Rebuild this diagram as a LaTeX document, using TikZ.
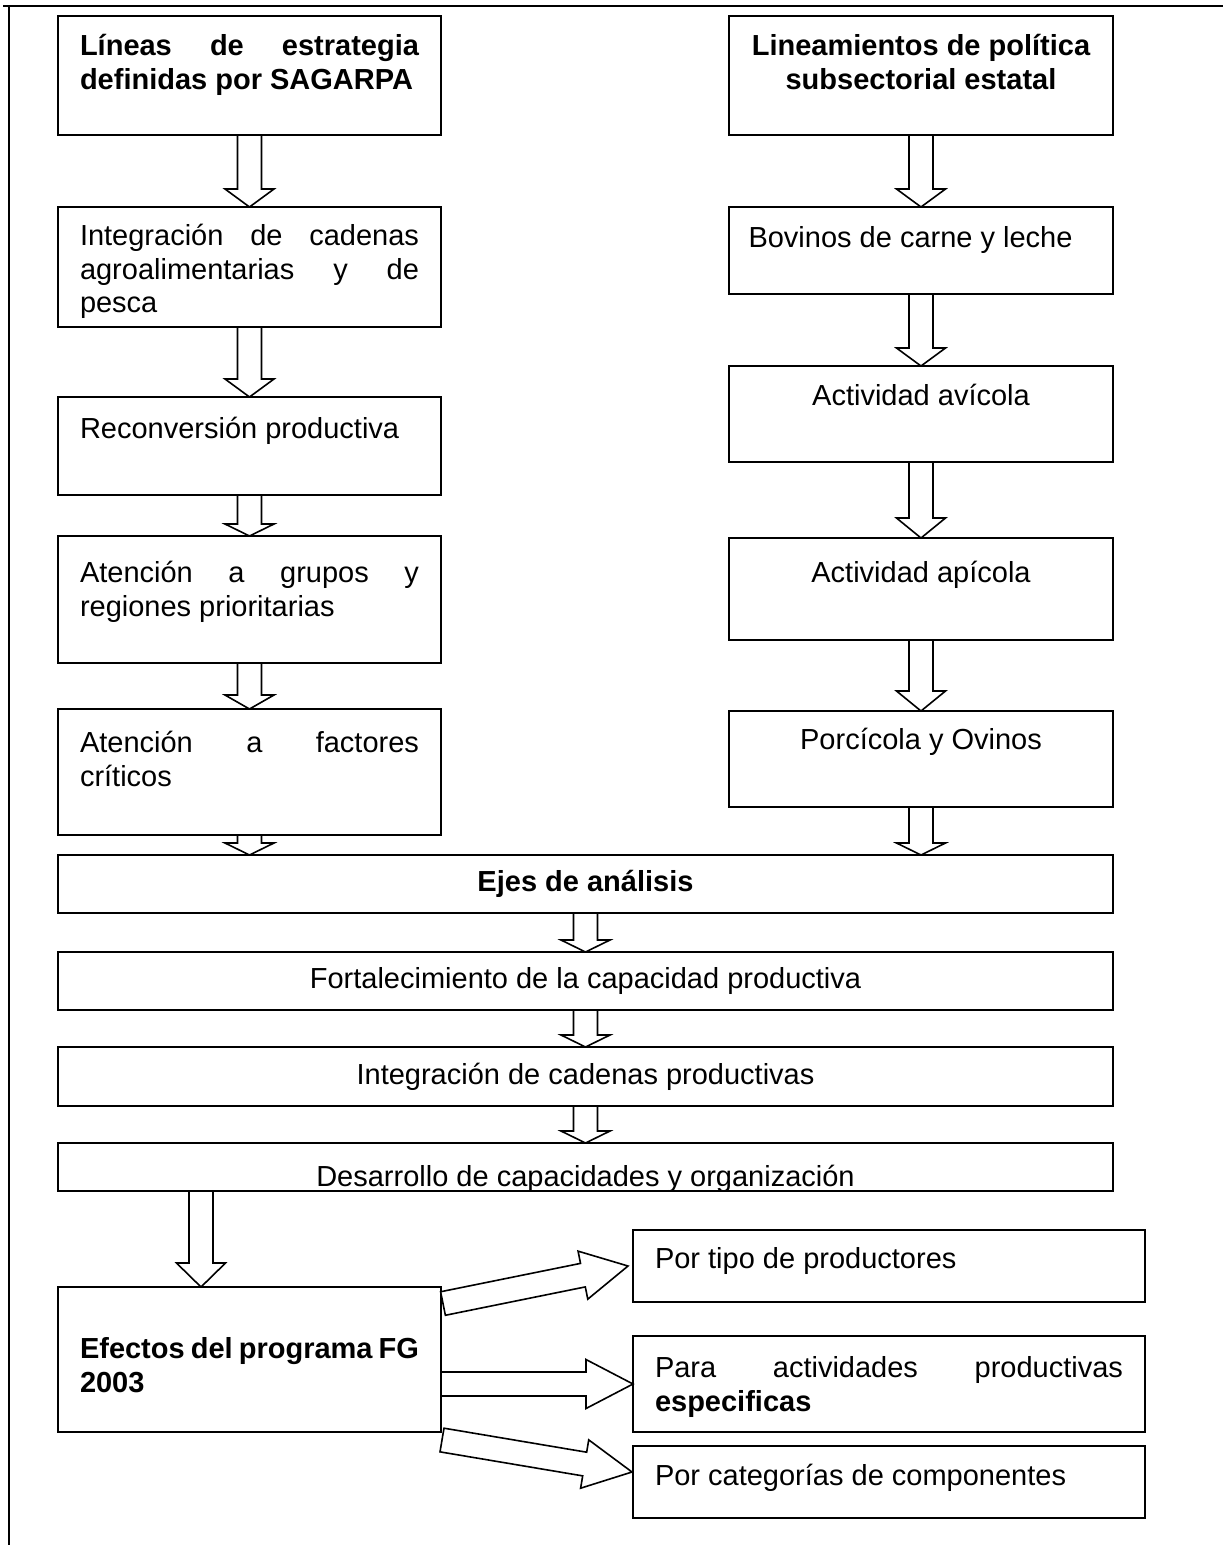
\documentclass[tikz,border=0pt]{standalone}
\usepackage{fontspec}
\setmainfont{Liberation Sans}
\usetikzlibrary{calc}

\tolerance=9999
\hbadness=10000
\vbadness=10000
\hyphenpenalty=10000
\exhyphenpenalty=10000

\definecolor{strokecol}{rgb}{0,0,0}

\tikzset{
    caja/.style={draw=strokecol, line width=2pt, anchor=north west, inner ysep=0pt, outer sep=0pt},
    ancha/.style={caja, inner xsep=0pt, minimum width=1055pt, minimum height=#1},
    flecha/.style={draw=strokecol, fill=white, line width=1.6pt},
}

% hollow block arrow: [head length]{from}{to}
\newcommand{\fatarrow}[3][18]{%
    \coordinate (fa-base) at ($(#3)!#1pt!(#2)$);
    \draw[flecha] ($(#2)!12pt!90:(#3)$) -- ($(fa-base)!12pt!-90:(#2)$)
        -- ($(fa-base)!24.5pt!-90:(#2)$) -- (#3)
        -- ($(fa-base)!24.5pt!90:(#2)$) -- ($(fa-base)!12pt!90:(#2)$)
        -- ($(#2)!12pt!-90:(#3)$) -- cycle;
}

\begin{document}
\begin{tikzpicture}[x=1pt, y=-1pt, every node/.style={font=\fontsize{29}{33.5}\selectfont}]

    \useasboundingbox (0,0) rectangle (1223,1545);

    \def\colL{339pt}
    \def\colR{345pt}
    \def\colB{468pt}

    % page frame
    \draw[draw=strokecol, line width=2pt] (3,6) -- (1223,6);
    \draw[draw=strokecol, line width=2pt] (9,6) -- (9,1545);

    % SAGARPA column
    \node[caja, inner xsep=22pt] (lin1) at (58,16) {\parbox[c][119pt][t]{\colL}{\vspace*{16.5pt}\bfseries\strut L\'ineas de estrategia definidas por SAGARPA}};
    \node[caja, inner xsep=22pt] (lin2) at (58,207) {\parbox[c][120pt][t]{\colL}{\vspace*{15.5pt}\strut Integraci\'on de cadenas agroalimentarias y de pesca}};
    \node[caja, inner xsep=22pt] (lin3) at (58,397) {\parbox[c][98pt][t]{\colL}{\vspace*{18.5pt}\strut Reconversi\'on productiva}};
    \node[caja, inner xsep=22pt] (lin4) at (58,536) {\parbox[c][127pt][t]{\colL}{\vspace*{23.5pt}\strut Atenci\'on a grupos y regiones prioritarias}};
    \node[caja, inner xsep=22pt] (lin5) at (58,709) {\parbox[c][126pt][t]{\colL}{\vspace*{20.5pt}\strut Atenci\'on a factores cr\'iticos}};

    % state policy column
    \node[caja, inner xsep=19.5pt] (pol1) at (729,16) {\parbox[c][119pt][t]{\colR}{\vspace*{16.5pt}\centering\bfseries\strut Lineamientos de pol\'itica subsectorial estatal}};
    \node[caja, inner xsep=19.5pt] (pol2) at (729,207) {\parbox[c][87pt][t]{\colR}{\vspace*{17.5pt}\strut Bovinos de carne y leche}};
    \node[caja, inner xsep=19.5pt] (pol3) at (729,366) {\parbox[c][96pt][t]{\colR}{\vspace*{16.5pt}\centering\strut Actividad av\'icola}};
    \node[caja, inner xsep=19.5pt] (pol4) at (729,538) {\parbox[c][102pt][t]{\colR}{\vspace*{21.5pt}\centering\strut Actividad ap\'icola}};
    \node[caja, inner xsep=19.5pt] (pol5) at (729,711) {\parbox[c][96pt][t]{\colR}{\vspace*{15.5pt}\centering\strut Porc\'icola y Ovinos}};

    % axes of analysis
    \node[ancha=58pt] (ejes) at (58,855) {\bfseries Ejes de an\'alisis};
    \node[ancha=58pt] (fort) at (58,952) {Fortalecimiento de la capacidad productiva};
    \node[ancha=59pt] (integ) at (58,1047) {Integraci\'on de cadenas productivas};
    \node[ancha=48pt, path picture={\node[anchor=base] (desa-text) at ([yshift=-19pt]path picture bounding box.center) {Desarrollo de capacidades y organizaci\'on};}] (desa) at (58,1143) {};

    % effects
    \node[caja, inner xsep=22pt] (efec) at (58,1287) {\parbox[c][145pt][t]{\colL}{\vspace*{48.5pt}\bfseries\strut Efectos del programa FG 2003}};
    \node[caja, inner xsep=22pt] (tipo) at (633,1230) {\parbox[c][72pt][t]{\colB}{\vspace*{15.5pt}\strut Por tipo de productores}};
    \node[caja, inner xsep=22pt] (activ) at (633,1336) {\parbox[c][96pt][t]{\colB}{\vspace*{18.5pt}\strut Para actividades productivas \textbf{especificas}}};
    \node[caja, inner xsep=22pt] (categ) at (633,1446) {\parbox[c][72pt][t]{\colB}{\vspace*{16.5pt}\strut Por categor\'ias de componentes}};

    % arrow ends
    \coordinate (ejes-l) at (lin5.south |- ejes.north);
    \coordinate (ejes-r) at (pol5.south |- ejes.north);
    \coordinate (desa-out) at ([xshift=143pt]desa.south west);
    \coordinate (efec-in) at (desa-out |- efec.north);
    \coordinate (e1-s) at ([xshift=2pt, yshift=56pt]efec.east);
    \coordinate (e1-t) at ([xshift=-5pt]tipo.west);
    \coordinate (e2-s) at ([yshift=-24.5pt]efec.east);
    \coordinate (e3-s) at ([xshift=1pt, yshift=-80.5pt]efec.east);
    \coordinate (e3-t) at ([xshift=-1pt, yshift=10pt]categ.west);

    % arrows
    \fatarrow[18]{lin1.south}{lin2.north}
    \fatarrow[18]{lin2.south}{lin3.north}
    \fatarrow[12]{lin3.south}{lin4.north}
    \fatarrow[14]{lin4.south}{lin5.north}
    \fatarrow[12]{lin5.south}{ejes-l}

    \fatarrow[18]{pol1.south}{pol2.north}
    \fatarrow[18]{pol2.south}{pol3.north}
    \fatarrow[20]{pol3.south}{pol4.north}
    \fatarrow[20]{pol4.south}{pol5.north}
    \fatarrow[12]{pol5.south}{ejes-r}

    \fatarrow[12]{ejes.south}{fort.north}
    \fatarrow[12]{fort.south}{integ.north}
    \fatarrow[12]{integ.south}{desa.north}
    \fatarrow[24]{desa-out}{efec-in}

    \fatarrow[46]{e1-s}{e1-t}
    \fatarrow[47]{e2-s}{activ.west}
    \fatarrow[48]{e3-s}{e3-t}
\end{tikzpicture}
\end{document}
